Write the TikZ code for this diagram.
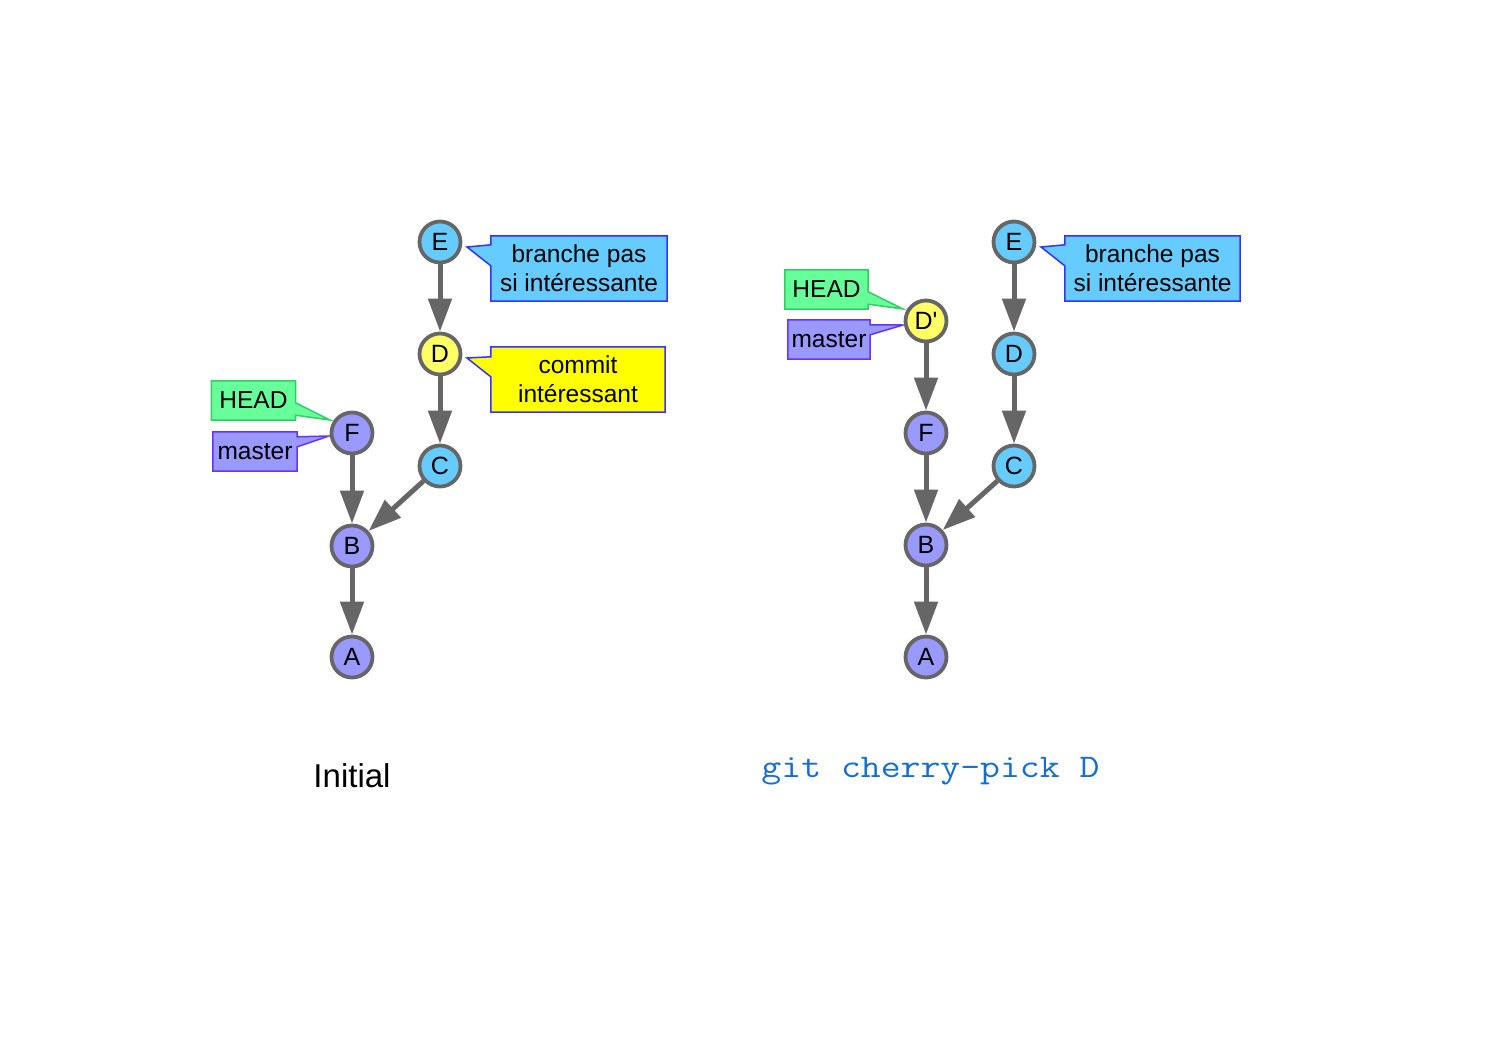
\documentclass[tikz,border=0pt]{standalone}
\usepackage{fontspec}
\setmainfont{Liberation Sans}
\usetikzlibrary{arrows.meta,calc,backgrounds}
\definecolor{nblue}{HTML}{66CCFF}
\definecolor{npurple}{HTML}{9999FF}
\definecolor{nyellow}{HTML}{FFFF66}
\definecolor{ngray}{HTML}{666666}
\definecolor{bblueborder}{HTML}{3333FF}
\definecolor{byellow}{HTML}{FFFF00}
\definecolor{bgreen}{HTML}{66FF99}
\definecolor{bgreenborder}{HTML}{33CC66}
\definecolor{bpurpleborder}{HTML}{6633FF}
\definecolor{cmdblue}{RGB}{20,110,210}
\tikzset{
  commit/.style={circle, draw=ngray, line width=3.8pt, minimum size=41pt, inner sep=0pt,
    font=\fontsize{25}{27}\selectfont},
  bluec/.style={commit, fill=nblue},
  purplec/.style={commit, fill=npurple},
  yellowc/.style={commit, fill=nyellow},
  arr/.style={draw=ngray, line width=5pt, -{Triangle[length=33pt,width=23pt]}},
  lbl/.style={inner sep=0pt, align=center, font=\fontsize{24.5}{29}\selectfont},
  bluebox/.style={fill=nblue, draw=bblueborder, line width=1.5pt, line join=miter},
  yellowbox/.style={fill=byellow, draw=bblueborder, line width=1.5pt, line join=miter},
  greenbox/.style={fill=bgreen, draw=bgreenborder, line width=1.5pt, line join=miter},
  purplebox/.style={fill=npurple, draw=bpurpleborder, line width=1.5pt, line join=miter},
}
\begin{document}
\begin{tikzpicture}[x=1pt,y=-1pt]
\useasboundingbox (0,0) rectangle (1497,1058);
% ---------- left graph ----------
\node[bluec] (lE) at (440,242) {E};
\node[yellowc] (lD) at (440,354) {D};
\node[bluec] (lC) at (440,466) {C};
\node[purplec] (lF) at (352,433) {F};
\node[purplec] (lB) at (352,546) {B};
\node[purplec] (lA) at (352,657) {A};
\draw[arr] (lE) -- (lD);
\draw[arr] (lD) -- (lC);
\draw[arr] (lC) -- (lB);
\draw[arr] (lF) -- (lB);
\draw[arr] (lB) -- (lA);
% left labels
\node[lbl, minimum width=176pt, minimum height=65pt] (lbE) at (579,268.5) {branche pas\\si intéressante};
\node[lbl, minimum width=174pt, minimum height=65pt] (lbD) at (578,379.5) {commit\\intéressant};
\node[lbl, minimum width=84pt, minimum height=39pt] (lbH) at (253.5,400.5) {HEAD};
\node[lbl, minimum width=84pt, minimum height=39pt] (lbM) at (255,451.5) {master};
\coordinate (ltE) at (467,247);
\coordinate (ltD) at (467,358);
\coordinate (ltH) at (330,420);
\coordinate (ltM) at (329,436);
% ---------- right graph ----------
\node[bluec] (rE) at (1014,242) {E};
\node[bluec] (rD) at (1014,354) {D};
\node[bluec] (rC) at (1014,466) {C};
\node[yellowc] (rDp) at (926,321) {D\textquotesingle};
\node[purplec] (rF) at (926,433) {F};
\node[purplec] (rB) at (926,545) {B};
\node[purplec] (rA) at (926,657) {A};
\draw[arr] (rE) -- (rD);
\draw[arr] (rD) -- (rC);
\draw[arr] (rC) -- (rB);
\draw[arr] (rDp) -- (rF);
\draw[arr] (rF) -- (rB);
\draw[arr] (rB) -- (rA);
\node[lbl, minimum width=175pt, minimum height=65pt] (rbE) at (1152.5,268.5) {branche pas\\si intéressante};
\node[lbl, minimum width=83pt, minimum height=39pt] (rbH) at (826.5,289.5) {HEAD};
\node[lbl, minimum width=82pt, minimum height=39pt] (rbM) at (829,339.5) {master};
\coordinate (rtE) at (1041,247);
\coordinate (rtH) at (903,309);
\coordinate (rtM) at (903,325);
% ---------- callout outlines ----------
\begin{scope}[on background layer]
\draw[bluebox] (lbE.north west) -- (lbE.north east) -- (lbE.south east) -- (lbE.south west)
  -- ($(lbE.north west)+(0,30)$) -- (ltE) -- ($(lbE.north west)+(0,9)$) -- cycle;
\draw[yellowbox] (lbD.north west) -- (lbD.north east) -- (lbD.south east) -- (lbD.south west)
  -- ($(lbD.north west)+(0,30)$) -- (ltD) -- ($(lbD.north west)+(0,10)$) -- cycle;
\draw[greenbox] (lbH.north west) -- (lbH.north east) -- ($(lbH.north east)+(0,22)$) -- (ltH)
  -- ($(lbH.south east)+(0,-5)$) -- (lbH.south east) -- (lbH.south west) -- cycle;
\draw[purplebox] (lbM.north west) -- (lbM.north east) -- ($(lbM.north east)+(0,5)$) -- (ltM)
  -- ($(lbM.north east)+(0,15)$) -- (lbM.south east) -- (lbM.south west) -- cycle;
\draw[bluebox] (rbE.north west) -- (rbE.north east) -- (rbE.south east) -- (rbE.south west)
  -- ($(rbE.north west)+(0,30)$) -- (rtE) -- ($(rbE.north west)+(0,9)$) -- cycle;
\draw[greenbox] (rbH.north west) -- (rbH.north east) -- ($(rbH.north east)+(0,22)$) -- (rtH)
  -- ($(rbH.south east)+(0,-5)$) -- (rbH.south east) -- (rbH.south west) -- cycle;
\draw[purplebox] (rbM.north west) -- (rbM.north east) -- ($(rbM.north east)+(0,5)$) -- (rtM)
  -- ($(rbM.north east)+(0,15)$) -- (rbM.south east) -- (rbM.south west) -- cycle;
\end{scope}
% ---------- captions ----------
\node[inner sep=0pt, font=\fontsize{33}{36}\selectfont] (capL) at (352,776) {Initial};
\node[inner sep=0pt, anchor=base, text=cmdblue, font=\ttfamily\fontsize{33}{36}\selectfont,
  xscale=1.17, transform shape] (capR) at (930.5,777) {git cherry-pick D};
\end{tikzpicture}
\end{document}
